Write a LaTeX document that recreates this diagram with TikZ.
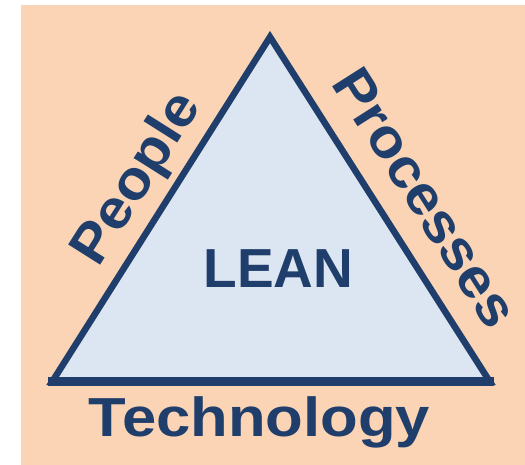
\documentclass[tikz,border=0pt]{standalone}
\usepackage{fontspec}
\setmainfont{Liberation Sans}
\definecolor{peach}{HTML}{FAD4B4}
\definecolor{tri}{HTML}{DCE5F2}
\definecolor{navy}{HTML}{1F3E6C}
\tikzset{
  lbl/.style={text=navy, font=\bfseries\fontsize{55}{60}\selectfont, inner sep=0pt, anchor=base},
}
\begin{document}
\begin{tikzpicture}[x=1pt,y=1pt]
\useasboundingbox (0,0) rectangle (525,465);
\fill[white] (0,0) rectangle (525,465);
\fill[peach] (21,0) rectangle (525,460);
% triangle
\coordinate (apex) at (270,428);
\coordinate (bl) at (52,83);
\coordinate (br) at (490,83);
\filldraw[fill=tri, draw=navy, line width=6.5pt, line join=miter] (apex) -- (br) -- (bl) -- cycle;
\draw[navy, line width=9pt] ([xshift=-4pt]bl) -- ([xshift=4pt]br);
% labels
\node[lbl] (lean) at (278.5,177) {LEAN};
\node[lbl, xscale=1.12] (tech) at (259.5,28) {Technology};
\node[lbl, rotate=57.7, xscale=1.07] (people) at (150.5,278) {People};
\node[lbl, rotate=-57.5, xscale=1.07] (proc) at (410,257.5) {Processes};
\end{tikzpicture}
\end{document}
